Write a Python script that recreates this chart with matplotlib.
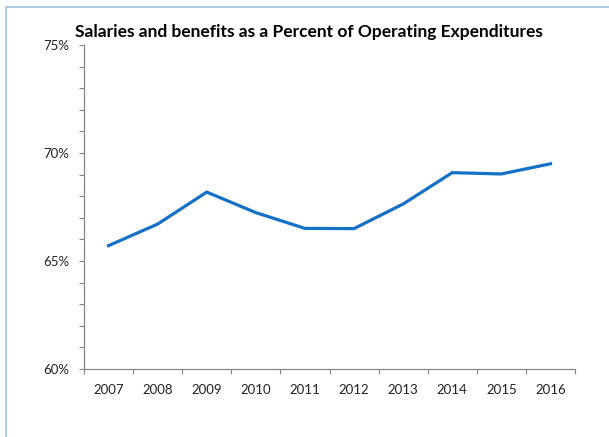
import matplotlib
matplotlib.use("Agg")
import matplotlib.pyplot as plt
from matplotlib.patches import Rectangle
from matplotlib.ticker import MultipleLocator, FuncFormatter, FixedLocator

years = ["2007", "2008", "2009", "2010", "2011", "2012", "2013", "2014", "2015", "2016"]
pct = [65.71, 66.71, 68.19, 67.24, 66.51, 66.50, 67.64, 69.09, 69.03, 69.50]
title = "Salaries and benefits as a Percent of Operating Expenditures"

plt.rcParams['font.family'] = ['Lato', 'DejaVu Sans']

W, H = 609, 437
fig = plt.figure(figsize=(W / 100, H / 100), dpi=100)
fig.patch.set_facecolor("white")

# outer frame (top & left visible)
fig.add_artist(Rectangle((6 / W, -0.1), 1.2, (H - 7) / H + 0.1, transform=fig.transFigure,
                         fill=False, edgecolor="#9dc3e6", linewidth=1.2))

ax = fig.add_axes([84 / W, (H - 369) / H, (575 - 84) / W, (369 - 45) / H])
x = list(range(len(years)))
ax.plot(x, pct, color="#1570c8", linewidth=2.3, solid_joinstyle="miter")

ax.set_xlim(-0.5, len(years) - 0.5)
ax.set_ylim(60, 75)
ax.yaxis.set_major_locator(MultipleLocator(5))
ax.yaxis.set_minor_locator(MultipleLocator(1))
ax.yaxis.set_major_formatter(FuncFormatter(lambda v, p: f"{v:.0f}%"))

ax.xaxis.set_major_locator(FixedLocator([i - 0.5 for i in range(len(years) + 1)]))
ax.xaxis.set_major_formatter(FuncFormatter(lambda v, p: ""))
ax.xaxis.set_minor_locator(FixedLocator(x))
ax.set_xticklabels(years, minor=True)

for s in ["top", "right"]:
    ax.spines[s].set_visible(False)
for s in ["left", "bottom"]:
    ax.spines[s].set_color("#868686")
    ax.spines[s].set_linewidth(0.9)

ax.tick_params(axis="y", which="both", direction="out", length=3.5, width=0.8,
               color="#868686", labelsize=9.5, pad=7, labelcolor="#222222")
ax.tick_params(axis="x", which="major", direction="out", length=3.5, width=0.8,
               color="#868686")
ax.tick_params(axis="x", which="minor", length=0, labelsize=9.5, pad=11,
               labelcolor="#222222")

fig.text(309 / W, (H - 32) / H, title, ha="center", va="center",
         fontsize=12.5, fontweight="bold", color="black")

fig.savefig("out.png", dpi=100)
